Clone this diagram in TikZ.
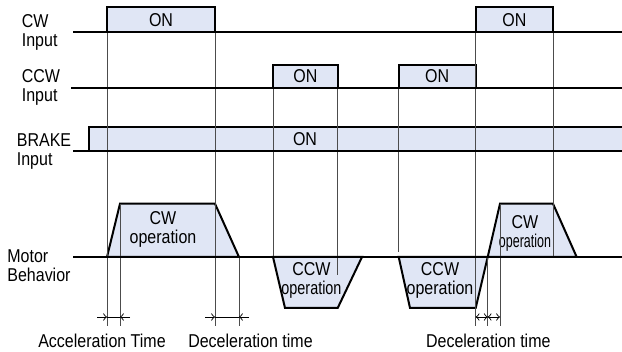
\documentclass[tikz,border=0pt]{standalone}
\usepackage{fontspec}
\usepackage{graphicx}
\setmainfont{Liberation Sans}[FakeStretch=0.86]
\usetikzlibrary{arrows, positioning}
\definecolor{onfill}{RGB}{224,230,245}
\newcommand{\labfont}{\fontsize{9.3}{9.5}\selectfont}
\tikzstyle{signal} = [line width=1pt]
\tikzstyle{pulse} = [line width=1pt, fill=onfill]
\tikzstyle{guide} = [line width=0.45pt, black!70]
\tikzstyle{rowlabel} = [anchor=west, align=left, inner sep=0pt, font=\labfont]
\tikzstyle{on} = [inner sep=0pt, font=\labfont]
\tikzstyle{optext} = [align=center, inner sep=0pt, font=\labfont]
\tikzstyle{dim} = [line width=0.45pt, ->, >=to]
\tikzstyle{dimboth} = [line width=0.45pt, <->, >=to, shorten >=0pt]

\begin{document}
\begin{tikzpicture}[x=0.5pt, y=-0.5pt]
        \useasboundingbox (0,0) rectangle (622,352);

        % row labels
        \node[rowlabel] (cwlab) at (21.5,32) {CW\\Input};
        \node[rowlabel] (ccwlab) at (21.5,87) {CCW\\Input};
        \node[rowlabel] (brakelab) at (16.5,151.5) {BRAKE\\Input};
        \node[rowlabel] (motorlab) at (7,265.5) {Motor\\Behavior};

        % input pulses
        \draw[pulse] (107,32) rectangle node[on] (cwon1) {ON} (215,7.5);
        \draw[pulse] (475.7,32) rectangle node[on] (cwon2) {ON} (553,7.5);
        \draw[pulse] (273,88) rectangle node[on] (ccwon1) {ON} (337.7,65);
        \draw[pulse] (398.7,88) rectangle node[on] (ccwon2) {ON} (475.7,65);
        \draw[pulse] (89,151) rectangle (630,127);
        \node[on] (brakeon) at (305,139) {ON};

        % motor behaviour
        \draw[pulse] (107,257) -- (120,203.7) -- (215,203.7) -- (239,257) -- cycle;
        \draw[pulse] (273,257) -- (285,308) -- (337.7,308) -- (362,257) -- cycle;
        \draw[pulse] (398.7,257) -- (410,308) -- (475.7,308) -- (487.7,257) -- cycle;
        \draw[pulse] (487.7,257) -- (500,203.7) -- (553,203.7) -- (576.7,257) -- cycle;
        \node[optext] (cwop1) at (163,229.5) {CW\\operation};
        \node[optext] (ccwop1) at (311.5,280.5) {CCW\\\scalebox{0.9}[1]{operation}};
        \node[optext] (ccwop2) at (440,280.5) {CCW\\operation};
        \node[optext] (cwop2) at (525,233.5) {CW\\\scalebox{0.78}[1]{operation}};

        % timing guides
        \foreach \x/\ya/\yb in {107/32/326, 120/204/326, 215/32/326, 239/257/326,
                273/88/257, 337.7/88/275, 398.7/88/252, 475.7/32/326,
                487.7/257/326, 500/204/326, 553/32/257}
            \draw[guide] (\x,\ya) -- (\x,\yb);

        % signal base lines
        \draw[signal] (73,32) -- (622,32);
        \draw[signal] (71,88) -- (622,88);
        \draw[signal] (73,151) -- (622,151);
        \draw[signal] (73,257) -- (622,257);

        % acceleration / deceleration spans
        \coordinate (acc1) at (107,317);
        \coordinate (acc2) at (120,317);
        \coordinate (dec1) at (215,317);
        \coordinate (dec2) at (239,317);
        \coordinate (rev1) at (475.7,317);
        \coordinate (rev2) at (487.7,317);
        \coordinate (rev3) at (500,317);
        \draw[dim] ([xshift=-5pt]acc1) -- (acc1);
        \draw[dim] ([xshift=5pt]acc2) -- (acc2);
        \draw[guide, black] (acc1) -- (acc2);
        \draw[dim] ([xshift=-5pt]dec1) -- (dec1);
        \draw[dim] ([xshift=5pt]dec2) -- (dec2);
        \draw[guide, black] (dec1) -- (dec2);
        \draw[dimboth] (rev1) -- (rev2);
        \draw[dimboth] (rev2) -- (rev3);

        \node[on] (acctime) at (102,341) {Acceleration Time};
        \node[on] (dectime1) at (250.5,341) {Deceleration time};
        \node[on] (dectime2) at (488.3,340.5) {Deceleration time};
\end{tikzpicture}
\end{document}
